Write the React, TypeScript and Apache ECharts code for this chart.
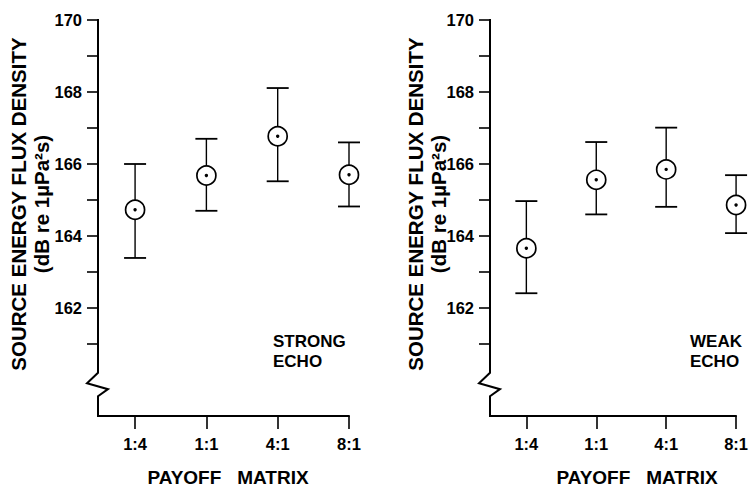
import React, { useEffect, useRef } from "react";
import * as echarts from "echarts";

// ---- data ----
const categories = ["1:4", "1:1", "4:1", "8:1"];
const categoryPositions = [1, 2, 3, 4];
const strongMean = [164.73, 165.68, 166.77, 165.7];
const strongLow = [163.39, 164.7, 165.52, 164.82];
const strongHigh = [166.0, 166.7, 168.11, 166.6];
const weakMean = [163.66, 165.56, 165.85, 164.86];
const weakLow = [162.41, 164.6, 164.81, 164.08];
const weakHigh = [164.97, 166.61, 167.01, 165.69];
const yTickValues = [161, 162, 163, 164, 165, 166, 167, 168, 169, 170];
const yLabelValues = [162, 164, 166, 168, 170];
const Y_MIN = 159;
const Y_MAX = 170;
const X_MIN = 0.48;
const X_MAX = 4;
const BREAK_TOP = 160.2;
const BREAK_BOTTOM = 159.55;

const FONT = '"Liberation Sans", Arial, Helvetica, sans-serif';

function buildRows(mean: number[], low: number[], high: number[]) {
  return categoryPositions.map((x, i) => [x, mean[i], low[i], high[i]]);
}

const errRender = (_params: any, api: any) => {
  const x = api.value(0);
  const pm = api.coord([x, api.value(1)]);
  const pl = api.coord([x, api.value(2)]);
  const ph = api.coord([x, api.value(3)]);
  const cap = 11;
  return {
    type: "group",
    children: [
      { type: "line", shape: { x1: pl[0], y1: pl[1], x2: ph[0], y2: ph[1] }, style: { stroke: "#000", lineWidth: 1.4 } },
      { type: "line", shape: { x1: ph[0] - cap, y1: ph[1], x2: ph[0] + cap, y2: ph[1] }, style: { stroke: "#000", lineWidth: 1.8 } },
      { type: "line", shape: { x1: pl[0] - cap, y1: pl[1], x2: pl[0] + cap, y2: pl[1] }, style: { stroke: "#000", lineWidth: 1.8 } },
      { type: "circle", shape: { cx: pm[0], cy: pm[1], r: 9.5 }, style: { fill: "#fff", stroke: "#000", lineWidth: 1.7 } },
      { type: "circle", shape: { cx: pm[0], cy: pm[1], r: 1.7 }, style: { fill: "#000" } },
    ],
  };
};

const axisRender = (_params: any, api: any) => {
  const top = api.coord([X_MIN, Y_MAX]);
  const bt = api.coord([X_MIN, BREAK_TOP]);
  const bb = api.coord([X_MIN, BREAK_BOTTOM]);
  const bottom = api.coord([X_MIN, Y_MIN]);
  const ax = top[0];
  const span = bb[1] - bt[1];
  return {
    type: "polyline",
    shape: {
      points: [
        [ax, top[1] - 1],
        [ax, bt[1]],
        [ax - 11, bt[1] + span * 0.45],
        [ax + 10, bt[1] + span * 0.7],
        [ax, bb[1]],
        [ax, bottom[1] + 1],
      ],
    },
    style: { stroke: "#000", lineWidth: 2, fill: null },
  };
};

function makeAxes(gridIndex: number) {
  const xAxis = {
    type: "value",
    gridIndex,
    min: X_MIN,
    max: X_MAX,
    splitLine: { show: false },
    axisLine: { show: true, onZero: false, lineStyle: { color: "#000", width: 2 } },
    axisTick: { show: true, customValues: categoryPositions, length: 13, lineStyle: { color: "#000", width: 1.6 } },
    axisLabel: {
      show: true,
      customValues: categoryPositions,
      formatter: (v: number) => categories[Math.round(v) - 1] ?? "",
      margin: 19,
      color: "#000",
      fontSize: 16.5,
      fontWeight: "bold",
      fontFamily: FONT,
    },
  };
  const yAxis = {
    type: "value",
    gridIndex,
    min: Y_MIN,
    max: Y_MAX,
    interval: 1,
    splitLine: { show: false },
    axisLine: { show: false },
    axisTick: { show: true, customValues: yTickValues, length: 11, lineStyle: { color: "#000", width: 1.6 } },
    axisLabel: {
      show: true,
      customValues: yLabelValues,
      margin: 16,
      color: "#000",
      fontSize: 16.5,
      fontWeight: "bold",
      fontFamily: FONT,
    },
  };
  return { xAxis, yAxis };
}

export default function App() {
  const ref = useRef<HTMLDivElement>(null);
  useEffect(() => {
    if (!ref.current) return;
    const chart = echarts.init(ref.current, undefined, { renderer: "svg" });
    const a0 = makeAxes(0);
    const a1 = makeAxes(1);
    const textStyle = (text: string, size: number, extra: any = {}) => ({
      text,
      fontSize: size,
      fontWeight: "bold",
      fontFamily: FONT,
      fill: "#000",
      ...extra,
    });
    chart.setOption({
      animation: false,
      backgroundColor: "#fff",
      grid: [
        { left: 98, top: 20, width: 251, height: 396 },
        { left: 490, top: 20, width: 252, height: 396 },
      ],
      xAxis: [a0.xAxis, a1.xAxis],
      yAxis: [a0.yAxis, a1.yAxis],
      series: [
        { type: "custom", xAxisIndex: 0, yAxisIndex: 0, renderItem: axisRender, data: [[X_MIN, Y_MAX]], clip: false, silent: true },
        { type: "custom", xAxisIndex: 1, yAxisIndex: 1, renderItem: axisRender, data: [[X_MIN, Y_MAX]], clip: false, silent: true },
        { type: "custom", name: "Strong echo", xAxisIndex: 0, yAxisIndex: 0, renderItem: errRender, data: buildRows(strongMean, strongLow, strongHigh), clip: false },
        { type: "custom", name: "Weak echo", xAxisIndex: 1, yAxisIndex: 1, renderItem: errRender, data: buildRows(weakMean, weakLow, weakHigh), clip: false },
      ],
      graphic: [
        {
          type: "text",
          x: 30,
          y: 204,
          rotation: Math.PI / 2,
          style: textStyle("SOURCE ENERGY FLUX DENSITY\n(dB re 1µPa²s)", 20.5, { textAlign: "center", textVerticalAlign: "middle", lineHeight: 23 }),
        },
        {
          type: "text",
          x: 427,
          y: 204,
          rotation: Math.PI / 2,
          style: textStyle("SOURCE ENERGY FLUX DENSITY\n(dB re 1µPa²s)", 20.5, { textAlign: "center", textVerticalAlign: "middle", lineHeight: 23 }),
        },
        { type: "text", x: 273, y: 333, style: textStyle("STRONG", 17, { lineHeight: 17 }) },
        { type: "text", x: 273, y: 353, style: textStyle("ECHO", 17, { lineHeight: 17 }) },
        { type: "text", x: 690, y: 333, style: textStyle("WEAK", 17, { lineHeight: 17 }) },
        { type: "text", x: 690, y: 353, style: textStyle("ECHO", 17, { lineHeight: 17 }) },
        { type: "text", x: 228, y: 477, style: textStyle("PAYOFF   MATRIX", 19, { textAlign: "center", textVerticalAlign: "middle", lineHeight: 19 }) },
        { type: "text", x: 637, y: 477, style: textStyle("PAYOFF   MATRIX", 19, { textAlign: "center", textVerticalAlign: "middle", lineHeight: 19 }) },
      ],
    });
    return () => chart.dispose();
  }, []);
  return (
    <div
      ref={ref}
      style={{ position: "fixed", left: 0, top: 0, width: 751, height: 487, background: "#fff" }}
    />
  );
}
